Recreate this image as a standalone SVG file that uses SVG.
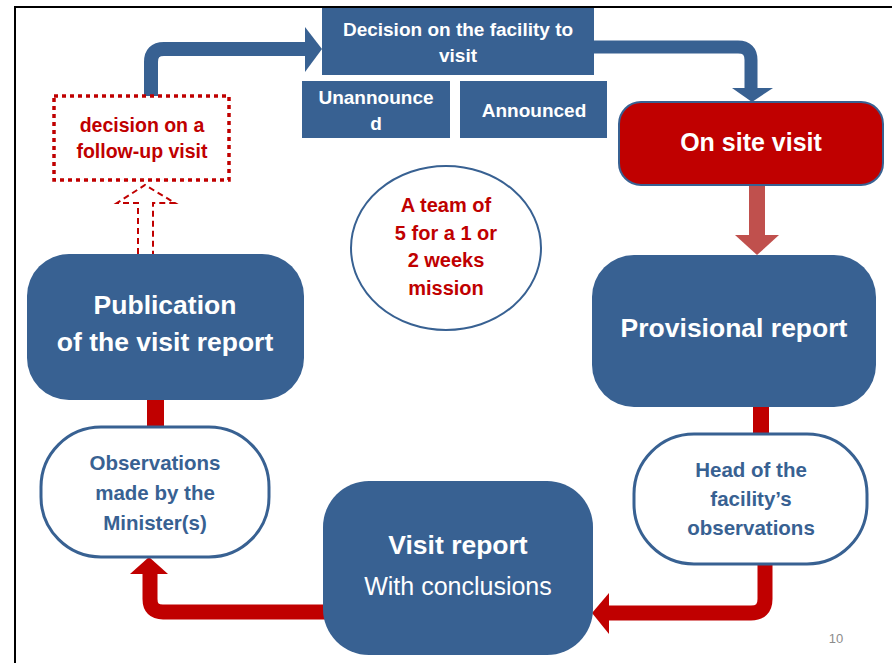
<svg xmlns="http://www.w3.org/2000/svg" width="892" height="663" viewBox="0 0 892 663">
<style>
.b{fill:#386192}
.t{font-family:"Liberation Sans",Arial,sans-serif;font-weight:bold;text-anchor:middle}
.w{fill:#fff}
.bl{fill:#386192}
.r{fill:#C00000}
.pill{fill:#fff;stroke:#386192;stroke-width:3}
</style>
<rect width="892" height="663" fill="#fff"/>
<path d="M15 663V7H892" fill="none" stroke="#000" stroke-width="2"/>
<g id="connectors">
<path d="M151 96V62Q151 49 164 49H306" fill="none" stroke="#386192" stroke-width="14"/>
<polygon points="305,27 322,49 305,72" class="b"/>
<path d="M593 47H738Q751 47 751 60V89" fill="none" stroke="#386192" stroke-width="13"/>
<polygon points="732,88 773,88 752,102" class="b"/>
<rect x="749" y="185" width="16" height="51" fill="#C0504D"/>
<polygon points="735,235 779,235 757,255" fill="#C0504D"/>
<rect x="147" y="397" width="17" height="31" fill="#C00000"/>
<rect x="753" y="404" width="16" height="31" fill="#C00000"/>
<path d="M765 564V599Q765 613 751 613H607" fill="none" stroke="#C00000" stroke-width="15"/>
<polygon points="609,593 609,634 592,613" fill="#C00000"/>
<path d="M325 612H163Q150 612 150 599V572" fill="none" stroke="#C00000" stroke-width="15"/>
<polygon points="130,574 168,574 149,557" fill="#C00000"/>
<path d="M138 254V203H117L145 185L175 203H153V254" fill="none" stroke="#C00000" stroke-width="2" stroke-dasharray="6 4"/>
</g>
<g id="decision">
<rect x="322" y="8" width="272" height="67" class="b"/>
<text class="t w" x="458" y="36" font-size="19">Decision on the facility to</text>
<text class="t w" x="458" y="62" font-size="19">visit</text>
</g>
<g id="unannounced">
<rect x="302" y="81" width="148" height="57" class="b"/>
<text class="t w" x="376" y="104" font-size="19">Unannounce</text>
<text class="t w" x="376" y="130" font-size="19">d</text>
</g>
<g id="announced">
<rect x="460" y="81" width="147" height="57" class="b"/>
<text class="t w" x="534" y="117" font-size="19">Announced</text>
</g>
<g id="followup">
<rect x="54" y="96" width="175" height="84" fill="none" stroke="#C00000" stroke-width="3.5" stroke-dasharray="4 4"/>
<text class="t r" x="142" y="132" font-size="19.5">decision on a</text>
<text class="t r" x="142" y="158" font-size="19.5">follow-up visit</text>
</g>
<g id="onsite">
<rect x="619" y="102" width="264" height="83" rx="22" fill="#C00000" stroke="#386192" stroke-width="2"/>
<text class="t w" x="751" y="151" font-size="25">On site visit</text>
</g>
<g id="team">
<ellipse cx="446" cy="248" rx="95" ry="82" fill="#fff" stroke="#386192" stroke-width="2"/>
<text class="t r" x="446" y="212" font-size="20">A team of</text>
<text class="t r" x="446" y="240" font-size="20">5 for a 1 or</text>
<text class="t r" x="446" y="267" font-size="20">2 weeks</text>
<text class="t r" x="446" y="295" font-size="20">mission</text>
</g>
<g id="provisional">
<rect x="592" y="255" width="284" height="152" rx="42" class="b"/>
<text class="t w" x="734" y="337" font-size="26.5">Provisional report</text>
</g>
<g id="publication">
<rect x="27" y="254" width="277" height="146" rx="42" class="b"/>
<text class="t w" x="165" y="314" font-size="26.5">Publication</text>
<text class="t w" x="165" y="351" font-size="26.5">of the visit report</text>
</g>
<g id="ministers">
<rect x="41" y="427" width="228" height="130" rx="60" class="pill"/>
<text class="t bl" x="155" y="470" font-size="20.5">Observations</text>
<text class="t bl" x="155" y="500" font-size="20.5">made by the</text>
<text class="t bl" x="155" y="530" font-size="20.5">Minister(s)</text>
</g>
<g id="head">
<rect x="634" y="434" width="233" height="130" rx="60" class="pill"/>
<text class="t bl" x="751" y="477" font-size="20.5">Head of the</text>
<text class="t bl" x="751" y="506" font-size="20.5">facility’s</text>
<text class="t bl" x="751" y="535" font-size="20.5">observations</text>
</g>
<g id="visitreport">
<rect x="323" y="481" width="270" height="174" rx="46" class="b"/>
<text class="t w" x="458" y="554" font-size="26.5">Visit report</text>
<text class="w" x="458" y="595" font-size="25" font-family="'Liberation Sans',Arial,sans-serif" text-anchor="middle">With conclusions</text>
</g>
<text x="836" y="643" font-size="13" fill="#8c8c8c" font-family="'Liberation Sans',Arial,sans-serif" text-anchor="middle">10</text>
</svg>
